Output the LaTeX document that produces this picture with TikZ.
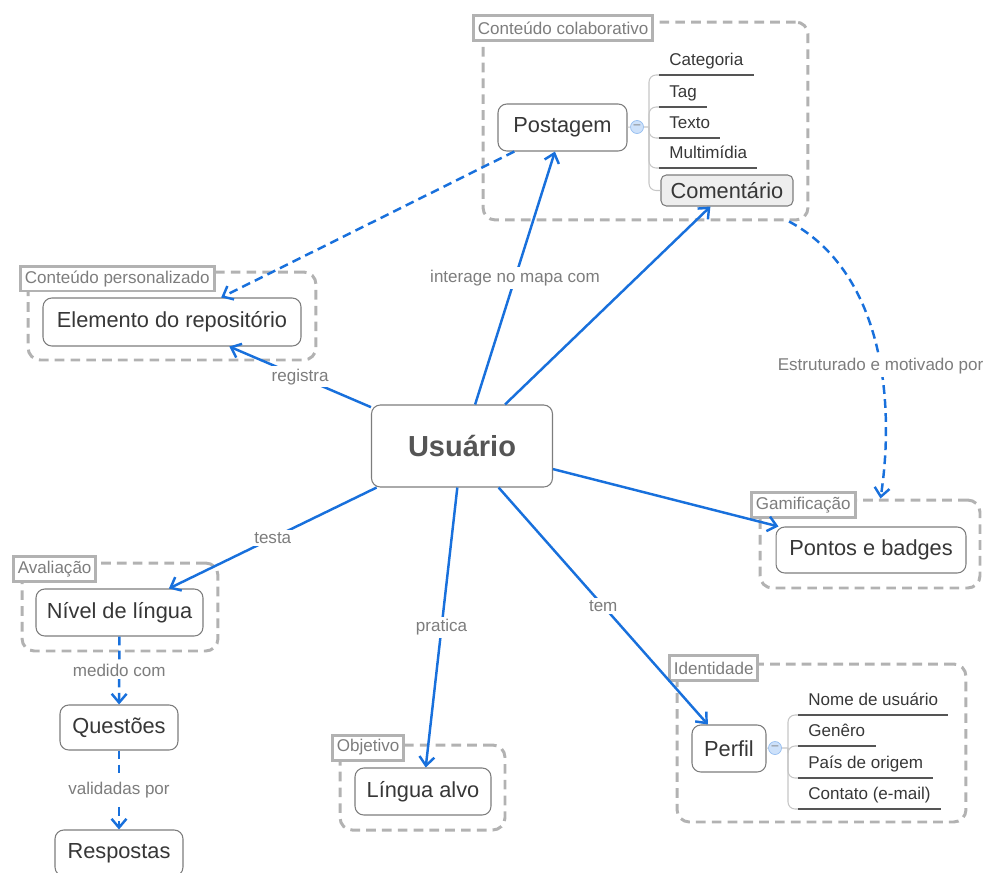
\documentclass[tikz,border=0pt]{standalone}
\usepackage{fontspec}
\setmainfont{Liberation Sans}
\usetikzlibrary{arrows.meta}

\definecolor{linkblue}{RGB}{24,112,220}
\definecolor{grpgray}{RGB}{178,178,178}
\definecolor{boxline}{RGB}{125,125,125}
\definecolor{txtdark}{RGB}{55,55,55}
\definecolor{rootgray}{RGB}{85,85,85}
\definecolor{lbltxt}{RGB}{125,125,125}
\definecolor{hubfill}{RGB}{205,225,250}
\definecolor{hubline}{RGB}{150,190,240}

\tikzset{
  topic/.style={draw=boxline, rounded corners=5pt, line width=0.6pt, fill=white, text=txtdark, font=\fontsize{12.4}{14}\selectfont, inner sep=0pt},
  root/.style={topic, text=rootgray, font=\fontsize{16.5}{19}\selectfont\bfseries},
  grp/.style={draw=grpgray, line width=1.7pt, dash pattern=on 5.5pt off 3.5pt, rounded corners=7pt, inner sep=0pt},
  grptitle/.style={draw=grpgray, line width=1.7pt, fill=white, text=lbltxt, font=\fontsize{9.7}{11}\selectfont, inner xsep=2.5pt, inner ysep=0pt, minimum height=0.5cm, anchor=west},
  item/.style={text=txtdark, font=\fontsize{9.7}{11}\selectfont, text height=7pt, text depth=2.5pt, inner xsep=0.2cm, inner ysep=2.5pt, anchor=south west},
  hub/.style={circle, draw=hubline, fill=hubfill, text=boxline, minimum size=0.26cm, inner sep=0pt, font=\fontsize{7}{7}\selectfont},
  branch/.style={draw=gray!45, line width=0.6pt, rounded corners=4pt},
  uline/.style={draw=txtdark!85, line width=0.6pt},
  link/.style={draw=linkblue, line width=1.4pt, ->},
  dlink/.style={link, dash pattern=on 5pt off 3pt},
  lbl/.style={fill=white, text=lbltxt, font=\fontsize{9.7}{11}\selectfont, inner sep=1.5pt},
  >={Straight Barb[length=5pt,width=8.5pt]}
}

\begin{document}
\begin{tikzpicture}[x=0.02cm, y=-0.02cm]
  \useasboundingbox (0,0) rectangle (989,872);

  \node (colab) at (645.5,121) [grp, minimum width=6.5cm, minimum height=3.96cm]{};
  \node (pessoal) at (172,316) [grp, minimum width=5.76cm, minimum height=1.76cm]{};
  \node (aval) at (120,607) [grp, minimum width=3.92cm, minimum height=1.76cm]{};
  \node (objet) at (422.5,787.5) [grp, minimum width=3.3cm, minimum height=1.7cm]{};
  \node (gamif) at (870,544) [grp, minimum width=4.4cm, minimum height=1.76cm]{};
  \node (ident) at (821.5,743) [grp, minimum width=5.78cm, minimum height=3.16cm]{};

  \node (tColab) at (472,28) [grptitle]{Conteúdo colaborativo};
  \node (tPessoal) at (19,278.5) [grptitle]{Conteúdo personalizado};
  \node (tAval) at (12,569) [grptitle]{Avaliação};
  \node (tObjet) at (331,747.5) [grptitle]{Objetivo};
  \node (tGamif) at (750,505) [grptitle]{Gamificação};
  \node (tIdent) at (668,668) [grptitle]{Identidade};

  \node (usuario) at (462,446) [root, minimum width=3.62cm, minimum height=1.64cm]{Usuário};
  \node (postagem) at (562.5,127.5) [topic, minimum width=2.58cm, minimum height=0.94cm]{Postagem};
  \node (comentario) at (727,190.5) [topic, fill=gray!13, rounded corners=3pt, minimum width=2.64cm, minimum height=0.62cm]{Comentário};
  \node (elemento) at (172,322) [topic, minimum width=5.16cm, minimum height=0.96cm]{Elemento do repositório};
  \node (nivel) at (119.5,612.5) [topic, minimum width=3.34cm, minimum height=0.94cm]{Nível de língua};
  \node (questoes) at (119,727.5) [topic, minimum width=2.36cm, minimum height=0.9cm]{Questões};
  \node (respostas) at (119,853) [topic, minimum width=2.56cm, minimum height=0.92cm]{Respostas};
  \node (lingua) at (423,791.5) [topic, minimum width=2.72cm, minimum height=0.94cm]{Língua alvo};
  \node (pontos) at (871,550) [topic, minimum width=3.8cm, minimum height=0.92cm]{Pontos e badges};
  \node (perfil) at (729,748.5) [topic, minimum width=1.48cm, minimum height=0.94cm]{Perfil};

  \node (hPost) at (637,127) [hub]{–};
  \coordinate (bPost) at (649,127);
  \node (cat) at (659,75) [item]{Categoria};
  \node (tag) at (659,107) [item]{Tag};
  \node (texto) at (659,138) [item]{Texto};
  \node (multi) at (659,168) [item]{Multimídia};

  \node (hPerfil) at (775,748) [hub]{–};
  \coordinate (bPerfil) at (788,748);
  \node (nome) at (798,715) [item]{Nome de usuário};
  \node (genero) at (798,746) [item]{Genêro};
  \node (pais) at (798,778) [item]{País de origem};
  \node (contato) at (798,809) [item]{Contato (e-mail)};

  \draw[branch] (postagem) -- (hPost) -- (bPost);
  \foreach \n in {cat,tag,texto,multi} {
    \draw[branch] (bPost) |- (\n.south west);
    \draw[uline] (\n.south west) -- (\n.south east);
  }
  \draw[branch] (bPost) |- (comentario.west);

  \draw[branch] (perfil) -- (hPerfil) -- (bPerfil);
  \foreach \n in {nome,genero,pais,contato} {
    \draw[branch] (bPerfil) |- (\n.south west);
    \draw[uline] (\n.south west) -- (\n.south east);
  }

  \draw[link] (usuario) -- node[lbl]{interage no mapa com} (postagem);
  \draw[link] (usuario) -- (comentario);
  \draw[link] (usuario) -- node[lbl]{registra} (elemento);
  \draw[link] (usuario) -- node[lbl]{testa} (nivel);
  \draw[link] (usuario) -- node[lbl]{pratica} (lingua);
  \draw[link] (usuario) -- node[lbl]{tem} (perfil);
  \draw[link] (usuario) -- (pontos);

  \draw[dlink] (postagem) -- (elemento);
  \draw[dlink] (colab.-35) .. controls +(93,50) and +(15,-100) .. node[lbl, pos=0.58]{Estruturado e motivado por} (gamif.77);

  \draw[dlink] (nivel) -- node[lbl]{medido com} (questoes);
  \draw[dlink] (questoes) -- node[lbl]{validadas por} (respostas);

\end{tikzpicture}
\end{document}
